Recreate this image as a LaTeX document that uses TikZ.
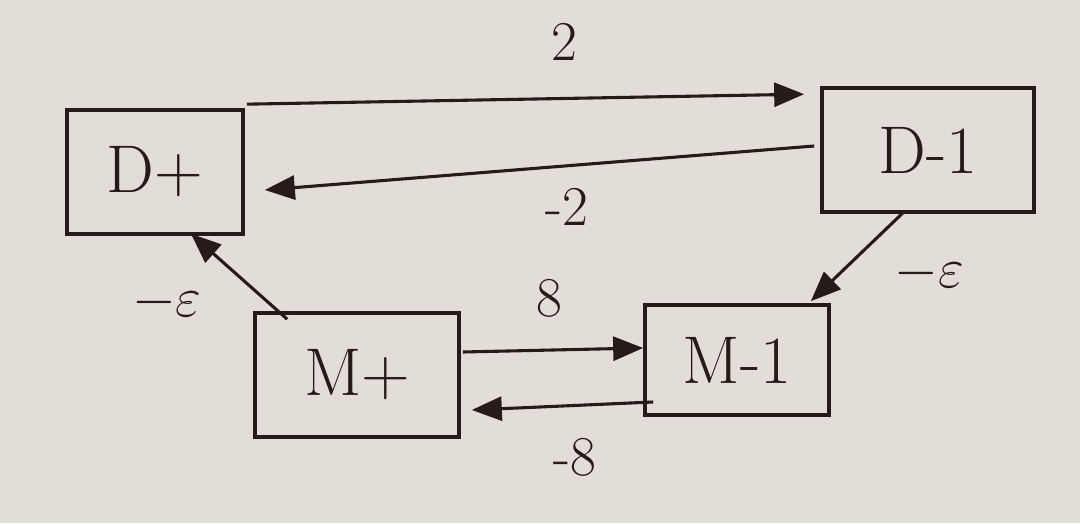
\RequirePackage{fix-cm}
\documentclass[tikz,border=0pt]{standalone}
\usetikzlibrary{arrows.meta}
\definecolor{paper}{RGB}{226,222,215}
\definecolor{ink}{RGB}{38,26,26}
\begin{document}
\begin{tikzpicture}[scale=1,
	box/.style={draw=ink,rectangle,line width=2.6pt,text=ink,font=\fontsize{48}{56}\selectfont},
	arr/.style={draw=ink,line width=2.2pt,-{Triangle[length=0.75cm,width=0.6cm]}},
	lbl/.style={text=ink,inner sep=2pt,font=\fontsize{40}{48}\selectfont}]
	\fill[paper] (0,0) rectangle (27,13.075);
	\useasboundingbox (0,0) rectangle (27,13.075);
	\node[box,minimum width=4.4cm,minimum height=3.1cm] (Dp) at (3.875,8.775) {D+};
	\node[box,minimum width=5.3cm,minimum height=3.1cm] (Dm) at (23.2,9.325) {D-1};
	\node[box,minimum width=5.1cm,minimum height=3.1cm] (Mp) at (8.925,3.7) {M+};
	\node[box,minimum width=4.6cm,minimum height=2.75cm] (Mm) at (18.425,4.075) {M-1};
	\draw[arr] ([shift={(0.05,0.1)}]Dp.north east) -- ([shift={(-0.4,-0.2)}]Dm.north west) node[lbl,pos=0.57,above=0.85cm] {2};
	\draw[arr] ([shift={(-0.15,0.1)}]Dm.west) -- ([shift={(0.5,-0.45)}]Dp.east) node[lbl,pos=0.45,below=0.45cm] {-2};
	\draw[arr] ([shift={(0.85,-0.2)}]Mp.north west) -- ([shift={(0.9,0.05)}]Dp.south) node[lbl,pos=0.2,left=1.55cm] {$-\varepsilon$};
	\draw[arr] ([shift={(-0.6,0.05)}]Dm.south) -- ([shift={(-0.5,0.05)}]Mm.north east) node[lbl,pos=0.6,right=1.05cm,yshift=-0.2cm] {$-\varepsilon$};
	\draw[arr] ([shift={(0.05,0.575)}]Mp.east) -- ([yshift=0.3cm]Mm.west) node[lbl,pos=0.48,above=0.72cm] {8};
	\draw[arr] ([shift={(0.25,-1.05)}]Mm.west) -- ([shift={(0.275,-0.875)}]Mp.east) node[lbl,pos=0.43,below=0.71cm] {-8};
\end{tikzpicture}
\end{document}
